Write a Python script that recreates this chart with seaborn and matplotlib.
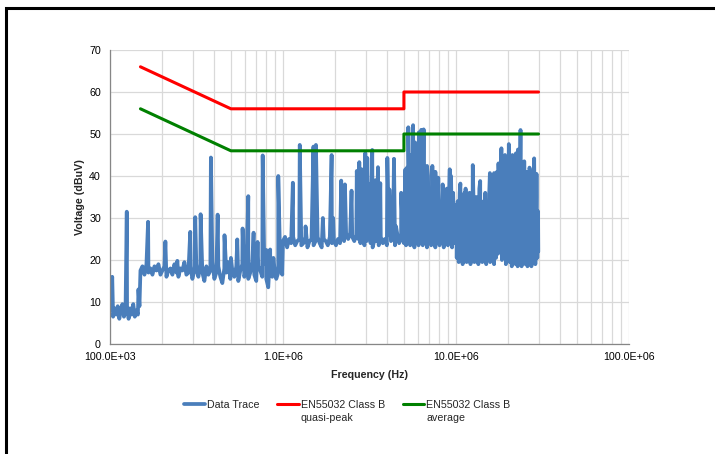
import numpy as np
import pandas as pd
import seaborn as sns
import matplotlib.pyplot as plt
from matplotlib.ticker import FixedLocator, FixedFormatter, LogLocator, MultipleLocator, NullFormatter
from matplotlib.patches import Rectangle

# ---------------------------------------------------------------
# Data
# ---------------------------------------------------------------

# noise floor, one list of levels (dBuV) per sweep segment (start Hz, stop Hz)
floor_bounds = [(100e3, 148e3), (150e3, 990e3), (1.0e6, 4.95e6), (5.0e6, 9.9e6), (10.1e6, 29.9e6)]

floor_a = [8.0, 9.5, 6.5, 8.5, 7.0, 9.0, 6.0, 8.0, 9.5, 6.5, 7.5, 9.0, 6.0, 8.5, 7.0, 9.5, 6.5, 8.0, 7.0, 9.0]
floor_b = [17.5, 18.5, 16.5, 19.0, 17.0, 18.0, 16.5, 18.5, 17.5, 19.0, 16.5, 17.5, 18.5, 16.0, 17.5, 18.0,
           16.5, 19.0, 17.0, 16.0, 18.0, 17.5, 19.5, 16.5, 17.0, 18.5, 15.5, 17.5, 18.0, 16.0, 19.0, 17.0,
           15.0, 18.5, 16.5, 17.5, 19.5, 15.5, 17.0, 18.5, 16.0, 14.5, 18.0, 17.0, 19.5, 15.5, 17.5, 16.0,
           18.5, 15.0, 17.5, 19.0, 16.0, 18.0, 15.5, 17.0, 19.5, 16.5, 15.0, 18.5, 17.5, 16.0, 19.0, 15.5,
           13.5, 17.5, 16.0, 18.5, 15.5, 17.0, 19.0, 16.5]
floor_c = [24.5, 25.5, 23.0, 25.0, 24.0, 25.5, 23.5, 24.5, 25.0, 23.5, 24.0, 25.5, 23.0, 24.5, 25.0, 23.5,
           24.5, 25.5, 24.0, 23.0, 25.0, 24.5, 23.5, 25.5, 24.0, 24.5, 23.5, 25.0, 24.0, 25.5, 24.5, 26.0,
           25.0, 26.5, 25.5, 24.5, 26.0, 25.0, 24.0, 25.5, 23.5, 24.5, 25.5, 24.0, 23.0, 25.0, 24.5, 23.5,
           25.5, 24.0, 25.0, 23.5, 26.0, 24.5, 25.0, 23.5, 26.5, 24.0, 25.5, 24.5]
floor_d = [24.0, 38.0, 23.5, 42.0, 24.5, 36.0, 23.5, 44.0, 24.0, 40.0, 23.0, 45.0, 25.0, 39.0, 23.5, 43.0,
           24.0, 37.0, 23.5, 41.0, 24.5, 38.0, 23.0, 40.0, 24.0, 35.0, 23.5, 37.0, 24.5, 39.0, 23.0, 34.0,
           24.0, 36.0, 23.5, 33.0, 24.5, 38.0, 23.0, 35.0, 24.0, 37.0, 23.5, 34.0, 24.5, 40.0, 23.0, 36.0,
           24.0, 33.0]
floor_e = [20.5, 34.0, 19.5, 36.0, 20.0, 31.0, 19.0, 35.0, 20.5, 37.0, 19.5, 32.0, 20.0, 36.0, 19.0, 30.5,
           20.5, 35.0, 19.5, 33.0, 20.0, 31.0, 19.0, 37.0, 20.5, 34.0, 19.5, 32.5, 20.0, 36.0, 19.0, 33.0,
           20.5, 35.5, 19.5, 38.0, 20.0, 36.0, 19.0, 39.0, 20.5, 41.0, 21.5, 38.0, 22.0, 43.0, 20.0, 40.0,
           20.5, 44.0, 19.0, 41.0, 20.0, 45.0, 19.5, 42.0, 18.5, 39.0, 20.0, 44.0, 19.0, 41.0, 18.5, 46.0,
           19.5, 40.0, 18.5, 43.0, 20.0, 38.0, 19.0, 41.0, 18.5, 36.0, 19.5, 40.0, 18.5, 37.0, 20.0, 39.0,
           19.0, 35.0, 20.5, 22.0]
floor_levels = [floor_a, floor_b, floor_c, floor_d, floor_e]

# narrowband spikes (Hz, dBuV)
spike_freq = [103e3, 125e3, 146e3, 166e3, 209e3, 245e3, 291e3, 311e3, 334e3, 383e3, 419e3, 459e3, 500e3,
              544e3, 584e3, 630e3, 676e3, 713e3, 763e3, 800e3, 843e3, 880e3, 939e3, 975e3,
              1.14e6, 1.25e6, 1.35e6, 1.50e6, 1.55e6, 1.70e6, 1.91e6, 1.95e6, 2.17e6, 2.28e6, 2.49e6,
              2.67e6, 2.76e6, 2.85e6, 2.99e6, 3.07e6, 3.15e6, 3.28e6, 3.42e6, 3.54e6, 3.65e6, 4.01e6,
              4.12e6, 4.38e6, 4.50e6, 4.82e6,
              5.1e6, 5.3e6, 5.45e6, 5.65e6, 5.8e6, 6.1e6, 6.3e6, 6.5e6, 6.8e6, 7.3e6, 7.6e6, 7.9e6,
              8.4e6, 8.8e6, 9.2e6, 9.6e6, 10.0e6, 10.6e6, 11.2e6, 11.8e6, 12.5e6, 13.1e6, 13.8e6,
              14.7e6, 15.7e6, 16.6e6, 17.6e6, 18.3e6, 19.2e6, 20.2e6, 21.2e6, 22.2e6, 22.8e6, 23.6e6,
              24.8e6, 25.6e6, 26.6e6, 28.3e6, 29.2e6, 29.8e6]
spike_level = [16.0, 31.5, 13.0, 29.1, 24.4, 19.8, 26.7, 30.2, 30.9, 44.4, 30.8, 25.9, 20.5,
               24.9, 27.5, 35.2, 26.5, 24.3, 44.9, 22.4, 22.5, 20.5, 40.0, 21.0,
               38.4, 47.4, 28.0, 47.0, 47.4, 30.0, 45.0, 30.0, 38.9, 38.0, 36.5,
               41.2, 43.3, 41.6, 45.5, 44.3, 38.0, 46.2, 39.0, 42.1, 38.3, 44.3,
               36.8, 44.1, 28.0, 36.0,
               41.6, 51.6, 45.0, 52.1, 48.0, 50.4, 51.0, 51.1, 42.4, 42.4, 41.0, 39.6,
               36.5, 35.0, 41.6, 34.0, 33.0, 38.2, 36.0, 35.0, 42.6, 35.0, 38.8,
               33.0, 40.7, 40.7, 43.0, 46.6, 45.0, 47.6, 45.0, 45.4, 46.3, 50.95,
               43.5, 40.0, 42.0, 44.2, 40.5, 31.6]

# EN55032 Class B limits
limit_freq = [150e3, 500e3, 5e6, 5e6, 30e6]
qp_limit = [66, 56, 56, 60, 60]
avg_limit = [56, 46, 46, 50, 50]

series_labels = ["Data Trace", "EN55032 Class B", "EN55032 Class B"]
legend_second_lines = ["quasi-peak", "average"]

x_ticks = [1e5, 1e6, 1e7, 1e8]
x_tick_labels = ["100.0E+03", "1.0E+06", "10.0E+06", "100.0E+06"]

# ---------------------------------------------------------------
# Build tables
# ---------------------------------------------------------------

floor_f = np.concatenate([np.geomspace(a, b, len(lv)) for (a, b), lv in zip(floor_bounds, floor_levels)])
floor_v = np.concatenate(floor_levels)
trace = pd.DataFrame({
    "freq": np.concatenate([floor_f, spike_freq]),
    "level": np.concatenate([floor_v, spike_level]),
}).sort_values("freq")

limits_qp = pd.DataFrame({"freq": limit_freq, "level": qp_limit})
limits_avg = pd.DataFrame({"freq": limit_freq, "level": avg_limit})

# ---------------------------------------------------------------
# Plot
# ---------------------------------------------------------------

sns.set_style("white")
plt.rcParams["font.family"] = ["Liberation Sans", "DejaVu Sans"]
FS = 7.7

fig = plt.figure(figsize=(7.15, 4.54), dpi=100)
ax = fig.add_axes([110 / 715, 1 - 344 / 454, 519 / 715, 294 / 454])
ax.set_xscale("log")

sns.lineplot(data=trace, x="freq", y="level", ax=ax, color="#4A7EBB", lw=2.7,
             estimator=None, label=series_labels[0])
sns.lineplot(data=limits_qp, x="freq", y="level", ax=ax, color="#FF0000", lw=2.2,
             estimator=None, label=series_labels[1])
sns.lineplot(data=limits_avg, x="freq", y="level", ax=ax, color="#008000", lw=2.2,
             estimator=None, label=series_labels[2])

ax.set_xlim(1e5, 1e8)
ax.set_ylim(0, 70)

ax.xaxis.set_major_locator(FixedLocator(x_ticks))
ax.xaxis.set_major_formatter(FixedFormatter(x_tick_labels))
ax.xaxis.set_minor_locator(LogLocator(base=10, subs=np.arange(2, 10)))
ax.xaxis.set_minor_formatter(NullFormatter())
ax.yaxis.set_major_locator(MultipleLocator(10))
ax.yaxis.set_minor_locator(MultipleLocator(2))

ax.set_axisbelow(True)
ax.grid(True, which="both", axis="x", color="#d9d9d9", lw=0.9)
ax.grid(True, which="major", axis="y", color="#d9d9d9", lw=0.9)

for side in ["top", "right"]:
    ax.spines[side].set_visible(False)
for side in ["left", "bottom"]:
    ax.spines[side].set_color("#868686")
    ax.spines[side].set_linewidth(0.9)

ax.tick_params(axis="both", which="major", direction="inout", length=5, width=0.8,
               color="#868686", labelsize=FS, labelcolor="black")
ax.tick_params(axis="y", which="minor", direction="inout", length=4, width=0.8, color="#868686")
ax.tick_params(axis="x", which="minor", length=0)
ax.tick_params(axis="y", which="major", pad=4)
ax.tick_params(axis="x", which="major", pad=3)

ax.set_xlabel("Frequency (Hz)", fontsize=FS, fontweight="bold", labelpad=6)
ax.set_ylabel("Voltage (dBuV)", fontsize=FS, fontweight="bold", labelpad=3)

# Legend below the plot, Excel style (handle on first text line)
ax.get_legend().remove()
handles, _ = ax.get_legend_handles_labels()
leg = fig.legend(handles, series_labels, loc="center", bbox_to_anchor=(347 / 715, 1 - 405 / 454),
                 ncol=3, frameon=False, fontsize=FS, handlelength=2.0, handletextpad=0.2,
                 columnspacing=1.65)
fig.canvas.draw()
for txt, extra in zip(leg.get_texts()[1:], legend_second_lines):
    bb = txt.get_window_extent()
    fig.text(bb.x0 / fig.bbox.width, (bb.y0 - 13) / fig.bbox.height, extra,
             ha="left", va="bottom", fontsize=FS)

# outer chart border (only its top and left edges fall inside the image)
fig.add_artist(Rectangle((5.5 / 715, -0.5), 2.0, 1.5 - 7.5 / 454, transform=fig.transFigure,
                         fill=False, ec="black", lw=2.2))

fig.savefig("out.png", dpi=100)
plt.close(fig)
